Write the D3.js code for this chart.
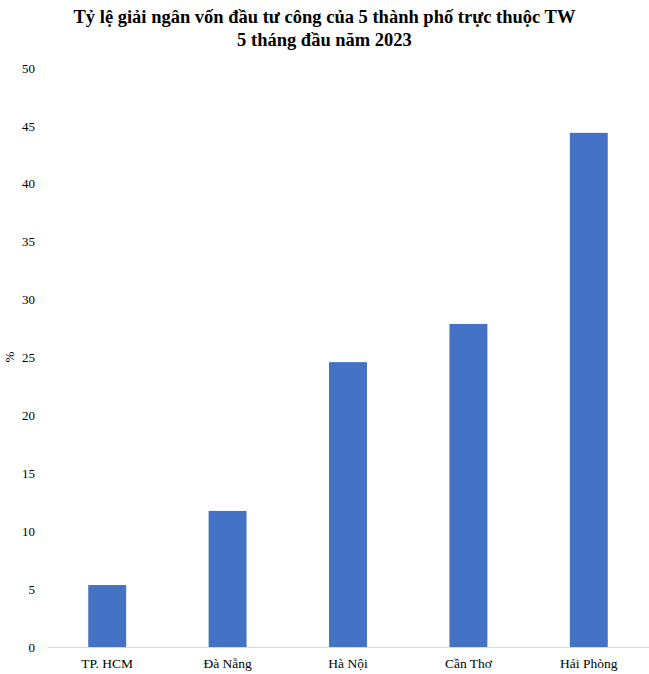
<!DOCTYPE html>
<html><head><meta charset="utf-8">
<script src="https://cdn.jsdelivr.net/npm/d3@7"></script>
<style>body{margin:0;background:#fff}</style>
</head><body>
<svg id="c" width="649" height="674"></svg>
<script>
const categories = ["TP. HCM", "Đà Nẵng", "Hà Nội", "Cần Thơ", "Hải Phòng"];
const values = [5.35, 11.75, 24.6, 27.9, 44.4];
const yTicks = [0, 5, 10, 15, 20, 25, 30, 35, 40, 45, 50];
const titleLines = ["Tỷ lệ giải ngân vốn đầu tư công của 5 thành phố trực thuộc TW", "5 tháng đầu năm 2023"];

const svg = d3.select("#c");
const font = "'Liberation Serif','Times New Roman',serif";
const x = d3.scaleBand().domain(categories).range([47, 649]).paddingInner(0.685).paddingOuter(0.3425);
const y = d3.scaleLinear().domain([0, 50]).range([647, 68]);

svg.append("g").selectAll("text").data(titleLines).join("text")
  .attr("x", 324.5).attr("y", (d, i) => 23 + i * 22.5)
  .attr("text-anchor", "middle").attr("font-family", font).attr("font-weight", "bold")
  .attr("font-size", 18.5).attr("fill", "#000").text(d => d);

const ya = svg.append("g").attr("transform", "translate(47,0)")
  .call(d3.axisLeft(y).tickValues(yTicks).tickSize(0).tickPadding(12));
ya.attr("font-family", font);
ya.select(".domain").remove();
ya.selectAll("text").attr("font-family", font).attr("font-size", 13).attr("fill", "#000");

svg.append("g").selectAll("rect").data(values).join("rect")
  .attr("x", (d, i) => x(categories[i])).attr("width", x.bandwidth())
  .attr("y", d => y(d)).attr("height", d => y(0) - y(d)).attr("fill", "#4472C4");

const xa = svg.append("g").attr("transform", `translate(0,${y(0)})`)
  .call(d3.axisBottom(x).tickSize(0).tickPadding(11));
xa.attr("font-family", font);
xa.select(".domain").attr("stroke", "#d9d9d9").attr("stroke-width", 1);
xa.selectAll("text").attr("font-family", font).attr("font-size", 13.5).attr("fill", "#000");

svg.append("text").attr("transform", "translate(14,357) rotate(-90)")
  .attr("text-anchor", "middle").attr("font-family", font).attr("font-size", 13)
  .attr("fill", "#000").text("%");
</script>
</body></html>
